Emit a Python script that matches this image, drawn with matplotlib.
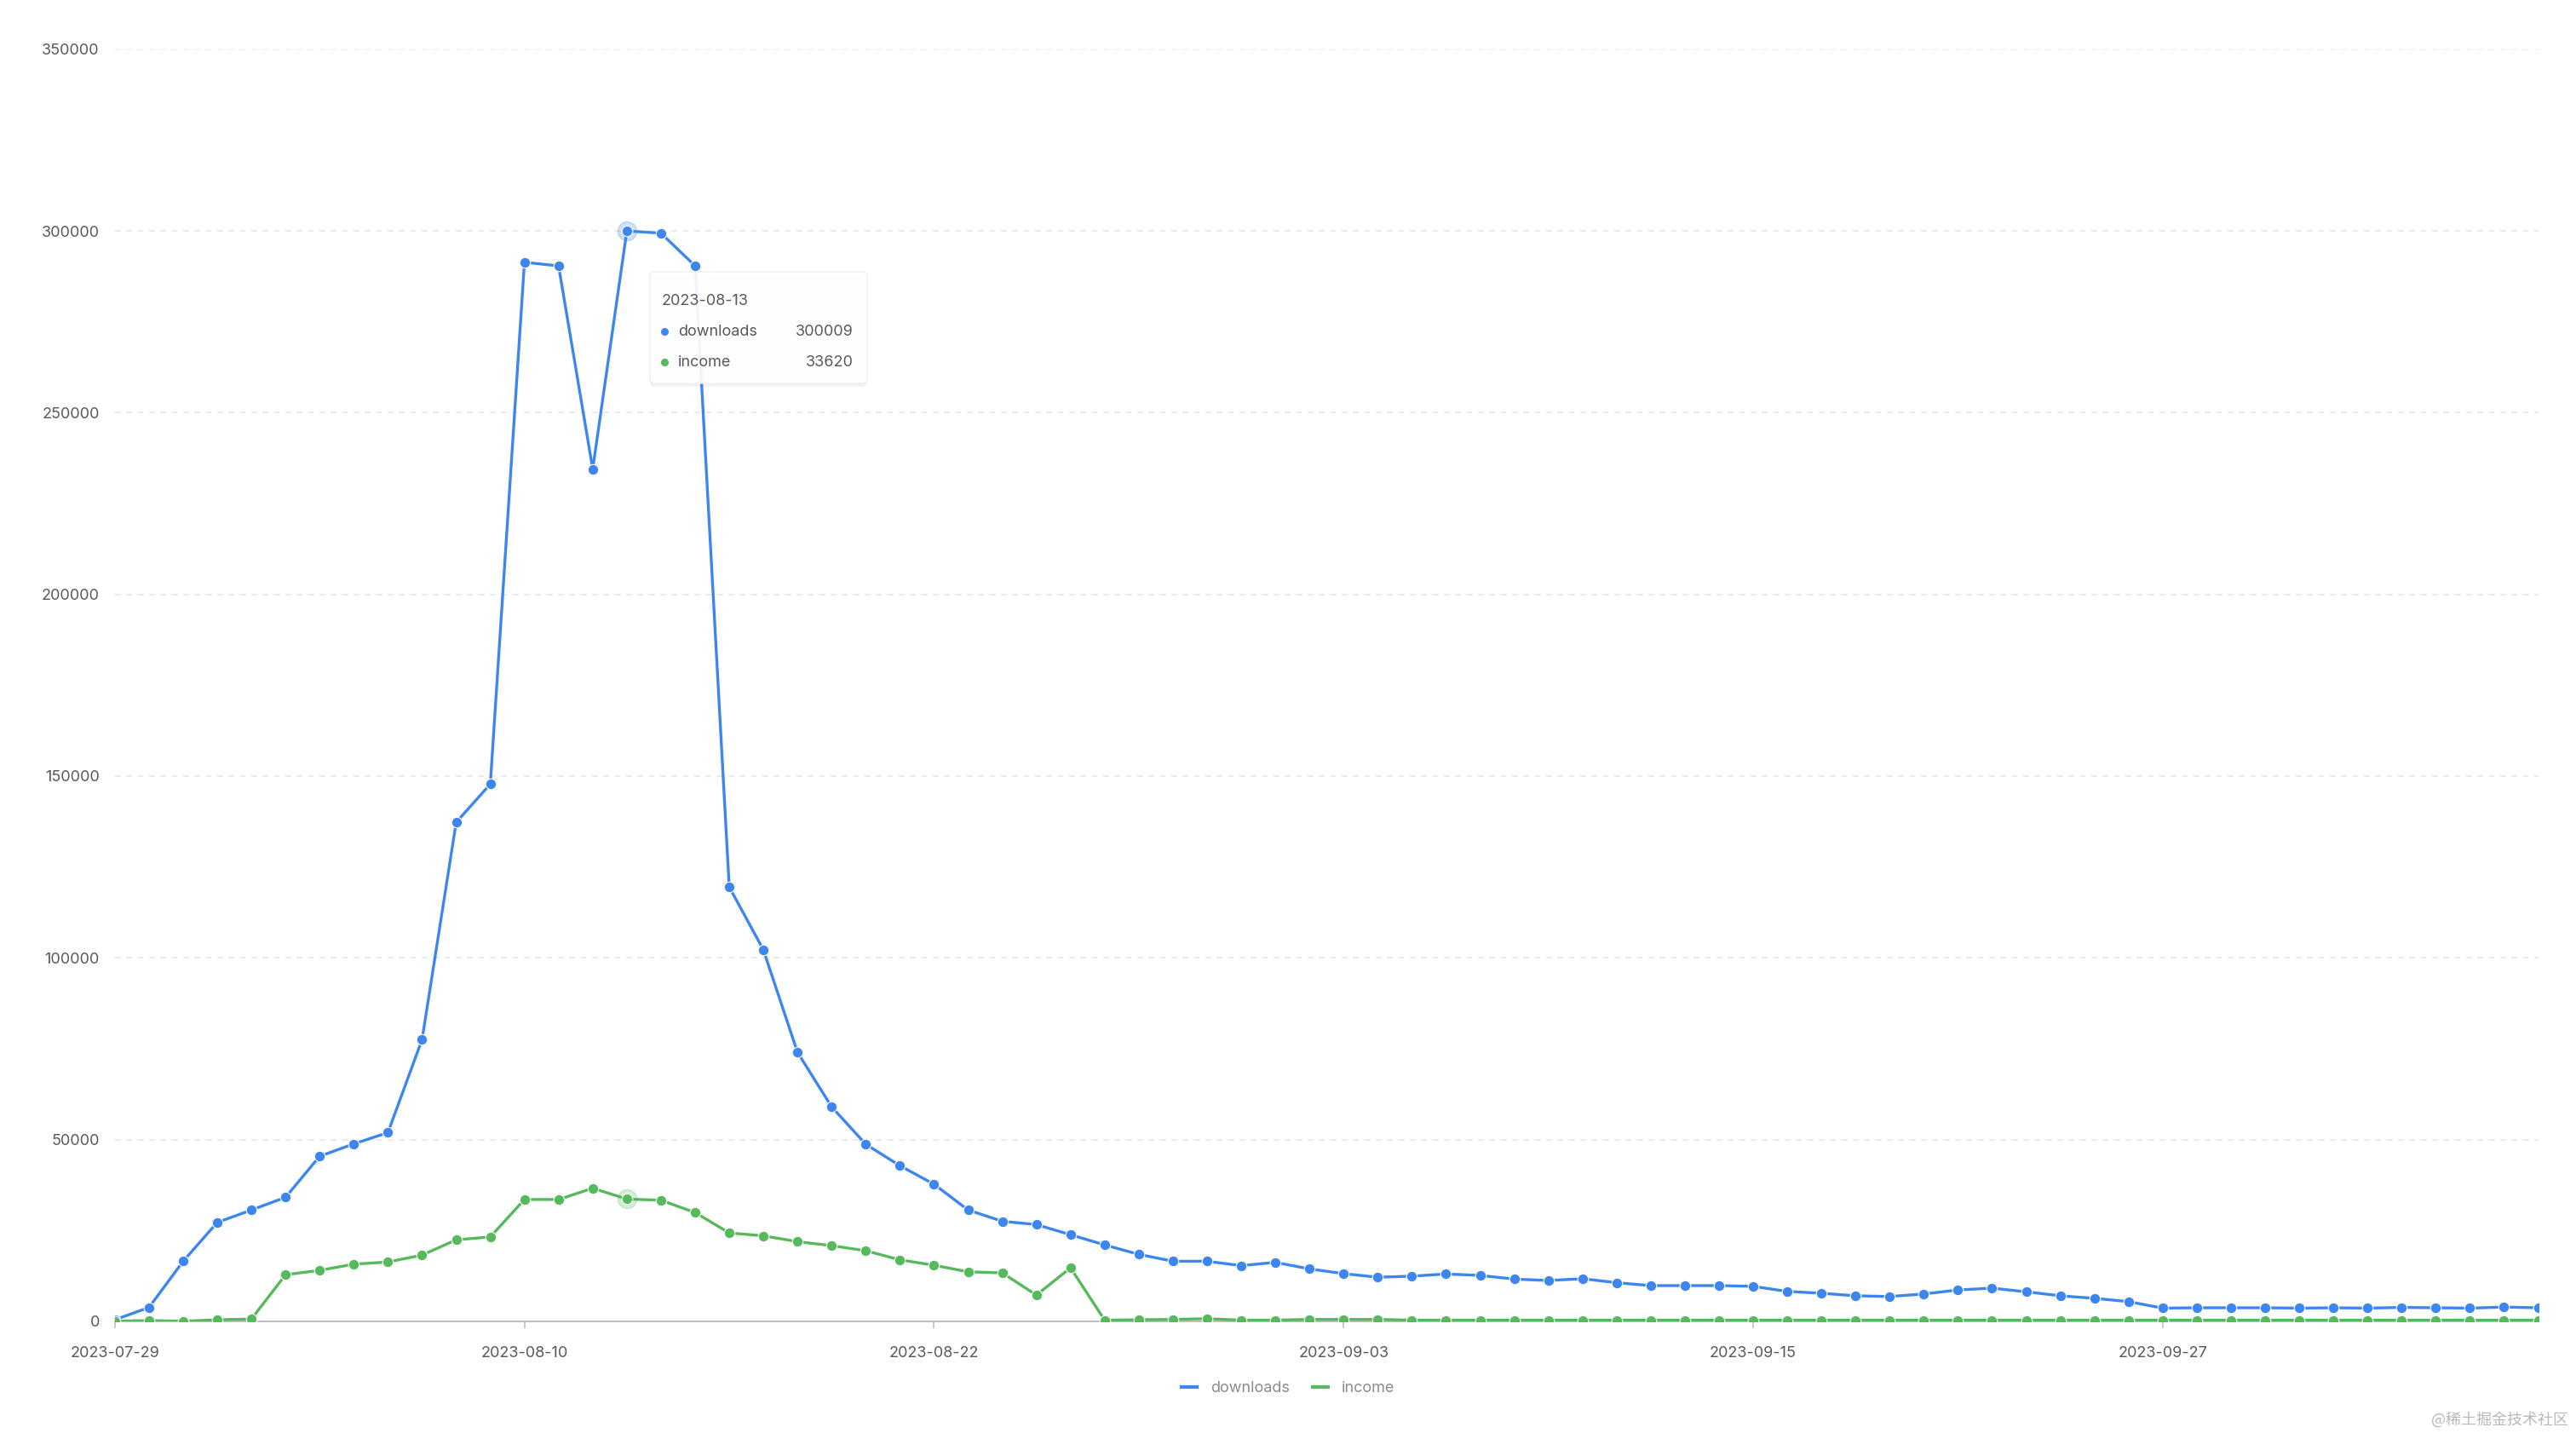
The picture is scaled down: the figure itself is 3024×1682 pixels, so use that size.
import pandas as pd
import matplotlib
matplotlib.use("Agg")
import matplotlib.pyplot as plt
import matplotlib.dates as mdates
import matplotlib.transforms as mtransforms
from matplotlib.patches import FancyBboxPatch
from matplotlib.lines import Line2D

# data
dates = pd.date_range("2023-07-29", "2023-10-08", freq="D")

downloads = [
    400, 3800, 16500, 27200, 30600, 34100, 45400, 48800, 51900, 77500,
    137300, 147800, 291400, 290400, 234500, 300009, 299400, 290400, 119500, 102200,
    74000, 59000, 48700, 42800, 37700, 30600, 27500, 26600, 23800, 21000,
    18400, 16500, 16500, 15300, 16200, 14400, 13100, 12100, 12400, 13000,
    12600, 11600, 11200, 11700, 10600, 9800, 9800, 9800, 9600, 8200,
    7700, 7000, 6800, 7500, 8600, 9100, 8100, 7000, 6300, 5400,
    3600, 3700, 3700, 3700, 3600, 3700, 3600, 3800, 3700, 3600,
    3900, 3700,
]

income = [
    0, 200, 0, 400, 600, 12800, 14000, 15700, 16300, 18200,
    22400, 23200, 33500, 33500, 36600, 33620, 33300, 29900, 24300, 23500,
    21900, 20800, 19400, 16900, 15400, 13600, 13300, 7200, 14700, 300,
    400, 500, 700, 300, 300, 500, 500, 500, 300, 300,
    300, 300, 300, 300, 300, 300, 300, 300, 300, 300,
    300, 300, 300, 300, 300, 300, 300, 300, 300, 300,
    300, 300, 300, 300, 300, 300, 300, 300, 300, 300,
    300, 300,
]

series_names = ["downloads", "income"]
colors = ["#3D86EF", "#56B95C"]
hover_idx = 15  # 2023-08-13

plt.rcParams["font.family"] = ["Inter", "DejaVu Sans"]

fig = plt.figure(figsize=(30.24, 16.82), dpi=100)
ax = fig.add_axes([0.0446, 0.078, 0.9407, 0.8876])

for vals, name, c in zip([downloads, income], series_names, colors):
    ax.plot(dates, vals, color=c, lw=2.4, marker="o", ms=9,
            mec="white", mew=0.8, label=name, zorder=3)
    # highlighted point halo
    ax.plot(dates[hover_idx], vals[hover_idx], "o", ms=16, color=c,
            alpha=0.25, zorder=2)

ax.set_xlim(dates[0], dates[-1])
ax.set_ylim(0, 350000)
ax.set_yticks(range(0, 350001, 50000))
ax.set_xticks(dates[::12])
ax.set_xticklabels([d.strftime("%Y-%m-%d") for d in dates[::12]])

ax.grid(axis="y", color="#e6e6e6", ls=(0, (4, 4)), lw=1.2)
ax.set_axisbelow(True)
for s in ["top", "right", "left"]:
    ax.spines[s].set_visible(False)
ax.spines["bottom"].set_color("#bfbfbf")
ax.spines["bottom"].set_linewidth(1.5)
ax.tick_params(axis="y", length=0, pad=13, labelsize=13, labelcolor="#595959")
ax.tick_params(axis="x", length=6, width=1.2, color="#bfbfbf", pad=15,
               labelsize=13, labelcolor="#595959")

# tooltip anchored to hovered point (offsets in inches)
hx = mdates.date2num(dates[hover_idx].to_pydatetime())
anchor = mtransforms.ScaledTranslation(hx, downloads[hover_idx], ax.transData)
tr = fig.dpi_scale_trans + anchor
box = FancyBboxPatch((0.27, -1.79), 2.55, 1.31, boxstyle="round,pad=0,rounding_size=0.06",
                     transform=tr, facecolor="white", edgecolor="#eeeeee", alpha=0.93,
                     lw=1.0, zorder=5)
shadow = FancyBboxPatch((0.27, -1.83), 2.55, 1.31, boxstyle="round,pad=0,rounding_size=0.06",
                        transform=tr, facecolor="#000000", edgecolor="none", alpha=0.05,
                        zorder=4)
ax.add_patch(shadow)
ax.add_patch(box)
ax.text(0.41, -0.82, dates[hover_idx].strftime("%Y-%m-%d"), transform=tr,
        fontsize=13, color="#595959", va="center", zorder=6)
for k, (vals, name, c) in enumerate(zip([downloads, income], series_names, colors)):
    yy = -1.18 - 0.36 * k
    ax.plot([0.445], [yy], "o", ms=5.5, color=c, transform=tr, zorder=6, clip_on=False)
    ax.text(0.60, yy, name, transform=tr, fontsize=13, color="#595959",
            va="center", zorder=6)
    ax.text(2.66, yy, str(vals[hover_idx]), transform=tr, fontsize=13,
            color="#595959", va="center", ha="right", zorder=6)

handles = [Line2D([0], [0], color=c, lw=3) for c in colors]
fig.legend(handles, series_names, loc="center", bbox_to_anchor=(0.5, 0.031),
           ncol=2, frameon=False, fontsize=13, labelcolor="#8c8c8c",
           handlelength=1.0, handletextpad=0.9, columnspacing=1.5)

fig.text(0.997, 0.004, "@稀土掘金技术社区", ha="right", va="bottom", fontsize=13,
         color="#b8b8b8", family=["Noto Sans CJK SC", "DejaVu Sans"])

fig.savefig("out.png", dpi=100, facecolor="white")
